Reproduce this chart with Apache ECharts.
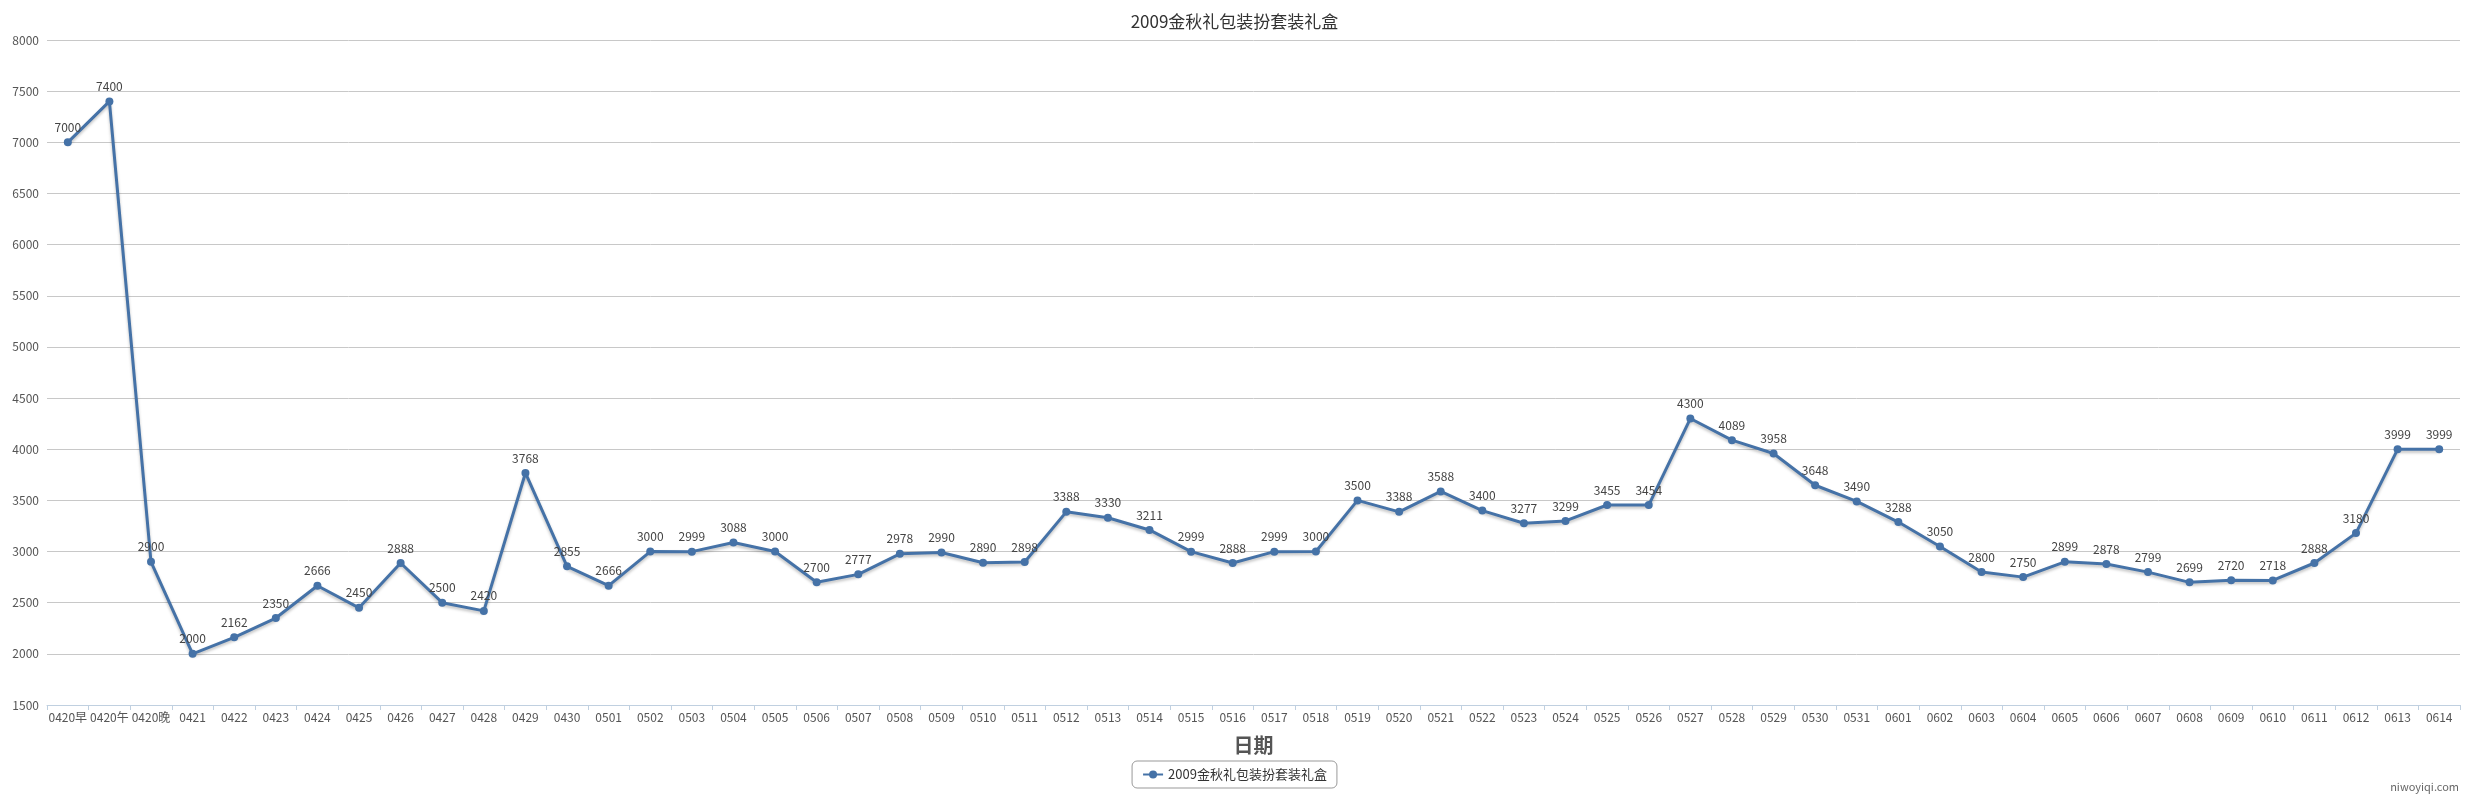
<!DOCTYPE html>
<html>
<head>
<meta charset="utf-8">
<script src="https://cdn.jsdelivr.net/npm/echarts@6/dist/echarts.min.js"></script>
<style>
  html, body { margin: 0; padding: 0; background: #fff; }
  #chart { width: 2469px; height: 800px; }
  #site { position: absolute; right: 10px; bottom: 6px; font: 11px 'Noto Sans CJK SC', sans-serif; color: #666; }
</style>
</head>
<body>
<div id="chart"></div>
<div id="site">niwoyiqi.com</div>
<script>
var title = '2009金秋礼包装扮套装礼盒';
var dates = ['0420早', '0420午', '0420晚', '0421', '0422', '0423', '0424', '0425', '0426', '0427', '0428', '0429', '0430',
    '0501', '0502', '0503', '0504', '0505', '0506', '0507', '0508', '0509', '0510', '0511', '0512', '0513', '0514', '0515',
    '0516', '0517', '0518', '0519', '0520', '0521', '0522', '0523', '0524', '0525', '0526', '0527', '0528', '0529', '0530',
    '0531', '0601', '0602', '0603', '0604', '0605', '0606', '0607', '0608', '0609', '0610', '0611', '0612', '0613', '0614'];
var prices = [7000, 7400, 2900, 2000, 2162, 2350, 2666, 2450, 2888, 2500, 2420, 3768, 2855,
    2666, 3000, 2999, 3088, 3000, 2700, 2777, 2978, 2990, 2890, 2898, 3388, 3330, 3211, 2999,
    2888, 2999, 3000, 3500, 3388, 3588, 3400, 3277, 3299, 3455, 3454, 4300, 4089, 3958, 3648,
    3490, 3288, 3050, 2800, 2750, 2899, 2878, 2799, 2699, 2720, 2718, 2888, 3180, 3999, 3999];

var chart = echarts.init(document.getElementById('chart'));
var font = "'Noto Sans CJK SC', sans-serif";
chart.setOption({
    animation: false,
    textStyle: { fontFamily: font },
    title: {
        text: title, left: 'center', top: 8,
        textStyle: { fontSize: 17, fontWeight: 'normal', color: '#333', fontFamily: font }
    },
    grid: { left: 47, right: 9, top: 40, bottom: 95 },
    legend: {
        bottom: 12, left: 'center',
        borderColor: '#999', borderWidth: 1, borderRadius: 5, padding: [7, 10],
        itemWidth: 20, itemHeight: 10,
        textStyle: { fontSize: 13, color: '#333' },
        data: [title]
    },
    xAxis: {
        type: 'category', data: dates, boundaryGap: true,
        name: '日期', nameLocation: 'middle', nameGap: 30,
        nameTextStyle: { fontSize: 20, fontWeight: 'bold', color: '#555' },
        axisLine: { lineStyle: { color: '#c0d0e0' } },
        axisTick: { show: true, lineStyle: { color: '#c0d0e0' } },
        axisLabel: { fontSize: 12, color: '#555', interval: 0, margin: 6 }
    },
    yAxis: {
        type: 'value', min: 1500, max: 8000, interval: 500,
        axisLine: { show: false }, axisTick: { show: false },
        axisLabel: { fontSize: 12, color: '#555', formatter: function (v) { return String(v); } },
        splitLine: { lineStyle: { color: '#c8c8c8' } }
    },
    series: [{
        name: title, type: 'line', data: prices,
        symbol: 'circle', symbolSize: 8,
        itemStyle: { color: '#4572a7' },
        lineStyle: { color: '#4572a7', width: 3, shadowColor: 'rgba(0,0,0,0.25)', shadowBlur: 3, shadowOffsetY: 2 },
        label: { show: true, position: 'top', fontSize: 12, color: '#444' }
    }]
});
</script>
</body>
</html>
